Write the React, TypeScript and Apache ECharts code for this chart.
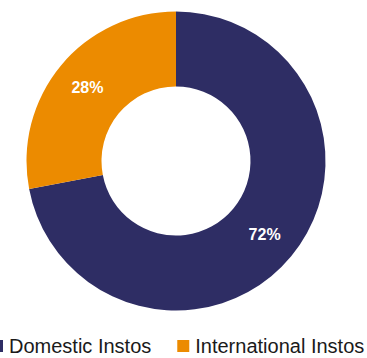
import React, { useEffect, useRef } from "react";
import * as echarts from "echarts";

const categories = ["Domestic Instos", "International Instos"];
const values = [72, 28];
const colors = ["#2E2D64", "#EC8B00"];

export default function App() {
  const ref = useRef<HTMLDivElement>(null);
  useEffect(() => {
    if (!ref.current) return;
    const chart = echarts.init(ref.current, null, { renderer: "svg" });
    chart.setOption({
      animation: false,
      color: colors,
      legend: {
        data: categories,
        left: -9,
        top: 336,
        padding: 0,
        orient: "horizontal",
        icon: "rect",
        itemWidth: 12,
        itemHeight: 12,
        itemGap: 26,
        textStyle: {
          fontFamily: "Liberation Sans, Arial, sans-serif",
          fontSize: 20,
          lineHeight: 20,
          color: "#1a1a1a",
          padding: [0, 0, 0, 1],
        },
      },
      series: [
        {
          type: "pie",
          center: [176, 161],
          radius: [74.5, 149.5],
          startAngle: 90,
          clockwise: true,
          avoidLabelOverlap: false,
          label: {
            show: true,
            position: "inside",
            formatter: "{c}%",
            color: "#ffffff",
            fontFamily: "Liberation Sans, Arial, sans-serif",
            fontWeight: "bold",
            fontSize: 16,
          },
          labelLine: { show: false },
          itemStyle: { borderWidth: 0 },
          emphasis: { disabled: true },
          data: categories.map((name, i) => ({ name, value: values[i] })),
        },
      ],
    });
    return () => chart.dispose();
  }, []);
  return <div ref={ref} style={{ width: 367, height: 358, position: "absolute", left: 0, top: 0 }} />;
}
